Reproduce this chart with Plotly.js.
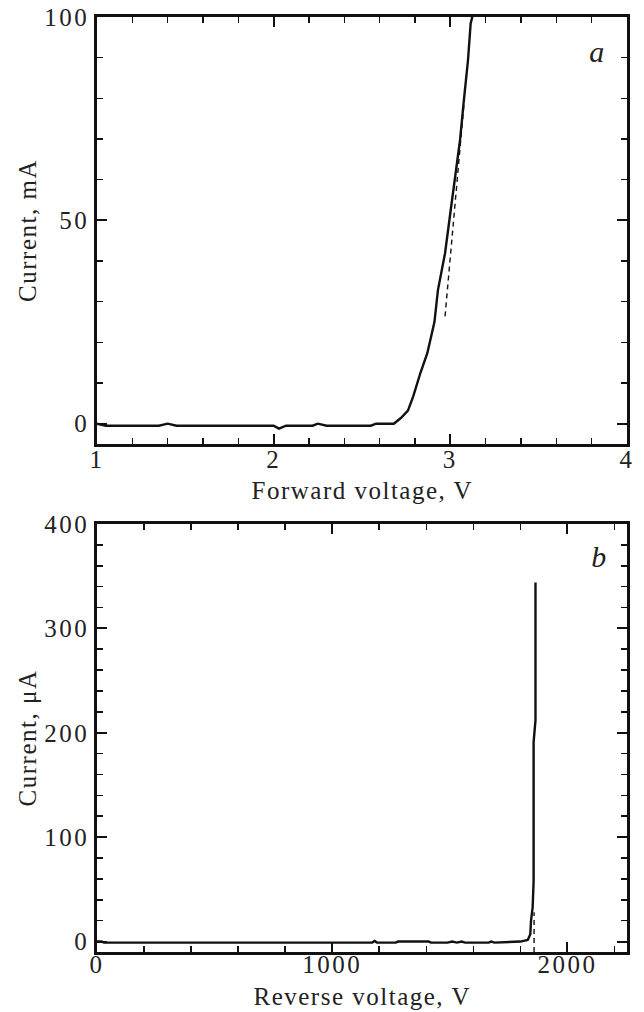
<!DOCTYPE html>
<html>
<head>
<meta charset="utf-8">
<script src="https://cdn.plot.ly/plotly-3.0.1.min.js"></script>
<style>
html,body{margin:0;padding:0;background:#fff;}
#chart{width:644px;height:1012px;}
#chart .xtick text, #chart .ytick text, #chart .x2tick text, #chart .y2tick text {letter-spacing: 2.5px;}
#chart .g-ytitle text, #chart .g-y2title text, #chart .annotation-text {letter-spacing: 1.5px;}
</style>
</head>
<body>
<div id="chart"></div>
<script>
// Panel a: forward I-V
var fwdVoltage = [1.00, 1.05, 1.35, 1.40, 1.45, 2.00, 2.03, 2.07, 2.22, 2.25, 2.30, 2.55, 2.58, 2.68, 2.72, 2.76, 2.79, 2.83, 2.87, 2.91, 2.93, 2.97, 3.00, 3.03, 3.055, 3.075, 3.10, 3.115, 3.13];
var fwdCurrent = [0, -0.5, -0.5, 0, -0.5, -0.5, -1.2, -0.5, -0.5, 0, -0.5, -0.5, 0, 0, 1.4, 3.2, 6.7, 12.4, 17.4, 25, 32.9, 41.9, 51.8, 61.6, 69.8, 78.8, 89.4, 98.4, 101];
var fwdFitVoltage = [2.97, 3.08];
var fwdFitCurrent = [26.4, 80];

// Panel b: reverse I-V
var revVoltage = [0, 20, 30, 1170, 1180, 1190, 1270, 1280, 1410, 1420, 1490, 1510, 1530, 1550, 1565, 1665, 1675, 1690, 1800, 1831, 1842, 1845, 1852, 1856, 1856, 1864, 1864];
var revCurrent = [0, 0, -1, -1, 0.5, -1, -1, 0, 0, -1, -1, 0, -1, 0, -1, -1, 0, -1, 0, 1.6, 7, 20, 33, 58, 191, 212, 344];
var revFitVoltage = [1858, 1858];
var revFitCurrent = [-10, 28];

var fontFam = '"Liberation Serif", "Times New Roman", serif';
var FS = 25;

var traces = [
  {x: fwdVoltage, y: fwdCurrent, xaxis: 'x', yaxis: 'y', mode: 'lines', line: {color: '#111', width: 2.4}, hoverinfo: 'skip'},
  {x: fwdFitVoltage, y: fwdFitCurrent, xaxis: 'x', yaxis: 'y', mode: 'lines', line: {color: '#111', width: 1.4, dash: '5px,4px'}, hoverinfo: 'skip'},
  {x: revVoltage, y: revCurrent, xaxis: 'x2', yaxis: 'y2', mode: 'lines', line: {color: '#111', width: 2.4}, hoverinfo: 'skip'},
  {x: revFitVoltage, y: revFitCurrent, xaxis: 'x2', yaxis: 'y2', mode: 'lines', line: {color: '#111', width: 1.4, dash: '5px,4px'}, hoverinfo: 'skip'}
];

function axisBase() {
  return {
    showline: true, linecolor: '#111', linewidth: 2.8, mirror: 'allticks',
    ticks: 'inside', ticklen: 10, tickwidth: 2, tickcolor: '#111',
    showgrid: false, zeroline: false,
    tickfont: {family: fontFam, size: FS, color: '#222'},
    automargin: false
  };
}

var xa = Object.assign(axisBase(), {
  domain: [0, 1], anchor: 'y', range: [1, 4], tickmode: 'array', tickvals: [1, 2, 3, 4],
  ticklabelstandoff: -9,
  minor: {dtick: 0.2, tick0: 1, ticks: 'inside', ticklen: 6, tickwidth: 1.6, tickcolor: '#111'}
});
var ya = Object.assign(axisBase(), {
  domain: [0.5433, 1], anchor: 'x', range: [-5, 100], tickmode: 'array', tickvals: [0, 50, 100],
  minor: {dtick: 10, tick0: 0, ticks: 'inside', ticklen: 6, tickwidth: 1.6, tickcolor: '#111'},
  title: {text: 'Current, mA', font: {family: fontFam, size: FS, color: '#222'}, standoff: 8}
});
var xa2 = Object.assign(axisBase(), {
  domain: [0, 1], anchor: 'y2', range: [0, 2253], tickmode: 'array', tickvals: [0, 1000, 2000],
  ticklabelstandoff: -12,
  minor: {dtick: 200, tick0: 0, ticks: 'inside', ticklen: 6, tickwidth: 1.6, tickcolor: '#111'}
});
var ya2 = Object.assign(axisBase(), {
  domain: [0, 0.4578], anchor: 'x2', range: [-10, 400], tickmode: 'array', tickvals: [0, 100, 200, 300, 400],
  minor: {dtick: 20, tick0: 0, ticks: 'inside', ticklen: 6, tickwidth: 1.6, tickcolor: '#111'},
  title: {text: 'Current, μA', font: {family: fontFam, size: FS, color: '#222'}, standoff: 8}
});

var layout = {
  width: 644, height: 1012,
  margin: {l: 97, r: 17, t: 17, b: 60},
  paper_bgcolor: '#fff', plot_bgcolor: '#fff',
  showlegend: false,
  xaxis: xa, yaxis: ya, xaxis2: xa2, yaxis2: ya2,
  annotations: [
    {text: 'Forward voltage, V', xref: 'paper', yref: 'paper', x: 0.5, y: 0.4941, showarrow: false,
     font: {family: fontFam, size: FS, color: '#222'}, xanchor: 'center', yanchor: 'middle', borderpad: 0},
    {text: 'Reverse voltage, V', xref: 'paper', yref: 'paper', x: 0.5, y: -0.0631, showarrow: false,
     font: {family: fontFam, size: FS, color: '#222'}, xanchor: 'center', yanchor: 'bottom', borderpad: 0},
    {text: '<i>a</i>', xref: 'paper', yref: 'paper', x: 0.945, y: 0.9626, showarrow: false,
     font: {family: fontFam, size: 30, color: '#222'}, xanchor: 'center', yanchor: 'middle'},
    {text: '<i>b</i>', xref: 'paper', yref: 'paper', x: 0.949, y: 0.4225, showarrow: false,
     font: {family: fontFam, size: 30, color: '#222'}, xanchor: 'center', yanchor: 'middle'}
  ]
};

Plotly.newPlot('chart', traces, layout, {staticPlot: true, displayModeBar: false});
</script>
</body>
</html>
